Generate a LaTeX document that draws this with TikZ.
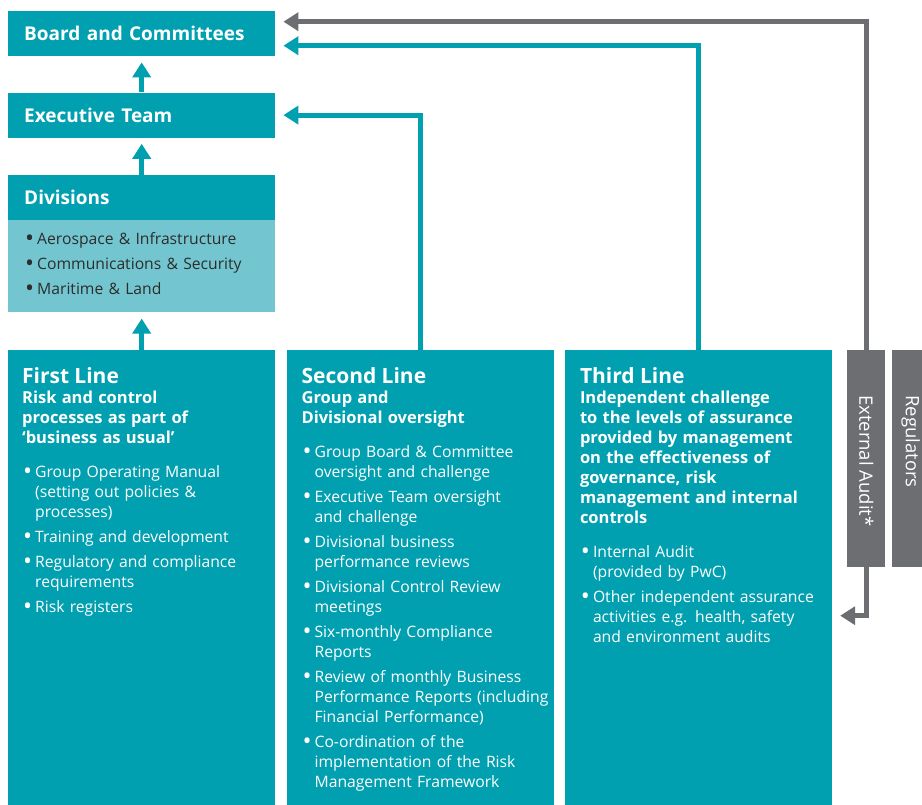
\documentclass[tikz,border=0pt]{standalone}
\usepackage{fontspec}
\setmainfont{Open Sans}
\usetikzlibrary{arrows.meta,positioning}
\definecolor{brand}{RGB}{0,160,176}
\definecolor{brandlight}{RGB}{115,198,208}
\definecolor{slate}{RGB}{109,110,113}
\definecolor{ink}{RGB}{45,45,45}
\newcommand\dotmark{\raisebox{-2.5pt}{\fontsize{24}{20}\selectfont\textbullet}}
\newenvironment{dotlist}{\begin{list}{\dotmark}{%
  \setlength{\leftmargin}{13pt}\setlength{\labelsep}{3pt}\setlength{\labelwidth}{10pt}%
  \setlength{\topsep}{0pt}\setlength{\partopsep}{0pt}\setlength{\parsep}{0pt}\setlength{\itemsep}{5pt}}}%
  {\end{list}}
\newcommand\colhead[1]{{\fontsize{21}{21}\selectfont\bfseries #1\par}}
\newcommand\colsub[1]{{\fontsize{16.5}{20}\selectfont\bfseries #1\par}\vspace{14pt}}
\tikzset{
  tier/.style={fill=brand, text=white, inner xsep=16pt, inner ysep=0pt, text width=235pt,
    minimum height=45pt, align=left, font=\fontsize{19}{22}\selectfont\bfseries},
  tierbody/.style={fill=brandlight, text=ink, inner xsep=16pt, inner ysep=0pt, text width=235pt,
    minimum height=92pt, align=left, font=\fontsize{15.7}{20}\selectfont},
  column/.style={fill=brand, minimum width=267pt, minimum height=455pt, inner sep=0pt},
  coltext/.style={text=white, anchor=north west, text width=260pt, inner sep=0pt, align=left,
    font=\fontsize{15.7}{20}\selectfont},
  sidebar/.style={fill=slate, minimum width=38pt, minimum height=217pt, inner sep=0pt},
  sidelabel/.style={text=white, rotate=-90, anchor=west, inner sep=0pt, font=\fontsize{18.5}{20}\selectfont},
  tip/.style={-{Triangle[length=15pt,width=18pt]}, line width=5pt, line join=miter},
  uplink/.style={tip, draw=brand, shorten >=6pt},
  feed/.style={tip, draw=brand, shorten >=8pt},
  auditfeed/.style={tip, draw=slate, shorten >=8pt},
}

\begin{document}
\begin{tikzpicture}[x=1pt, y=1pt]
  \useasboundingbox (0,0) rectangle (922,-805);

  \node[tier, anchor=north west] (board) at (8,-11) {Board and Committees};
  \node[tier, below=36pt of board] (exec) {Executive Team};
  \node[tier, below=37pt of exec] (divhead) {Divisions};
  \node[tierbody, below=0pt of divhead] (divbody) {%
    \begin{dotlist}
      \item Aerospace \& Infrastructure
      \item Communications \& Security
      \item Maritime \& Land
    \end{dotlist}\par\vspace{12pt}};

  \node[column, anchor=north west] (first) at (8,-350) {};
  \node[column, right=11pt of first] (second) {};
  \node[column, right=11pt of second] (third) {};

  \node[coltext] (firsttext) at ([shift={(14,-17)}]first.north west) {%
    \colhead{First Line}
    \colsub{Risk and control\\processes as part of\\‘business as usual’}
    \begin{dotlist}
      \item Group Operating Manual\\(setting out policies \&\\processes)
      \item Training and development
      \item Regulatory and compliance\\requirements
      \item Risk registers
    \end{dotlist}};
  \node[coltext] (secondtext) at ([shift={(15,-17)}]second.north west) {%
    \colhead{Second Line}
    \colsub{Group and\\Divisional oversight}
    \begin{dotlist}
      \item Group Board \& Committee\\oversight and challenge
      \item Executive Team oversight\\and challenge
      \item Divisional business\\performance reviews
      \item Divisional Control Review\\meetings
      \item Six-monthly Compliance\\Reports
      \item Review of monthly Business\\Performance Reports (including\\Financial Performance)
      \item Co-ordination of the\\implementation of the Risk\\Management Framework
    \end{dotlist}};
  \node[coltext] (thirdtext) at ([shift={(15,-17)}]third.north west) {%
    \colhead{Third Line}
    \colsub{Independent challenge\\to the levels of assurance\\provided by management\\on the effectiveness of\\governance, risk\\management and internal\\controls}
    \begin{dotlist}
      \item Internal Audit\\(provided by PwC)
      \item Other independent assurance\\activities e.g. health, safety\\and environment audits
    \end{dotlist}};

  \node[sidebar, anchor=north west] (audit) at (847,-350) {};
  \node[sidebar, right=6pt of audit] (regulators) {};
  \node[sidelabel] (auditlabel) at ([yshift=-45pt]audit.north) {External Audit*};
  \node[sidelabel] (regulatorslabel) at ([yshift=-45pt]regulators.north) {Regulators};

  \draw[uplink] (exec) -- (board);
  \draw[uplink] (divhead) -- (exec);
  \draw[uplink] (first) -- (divbody);
  \draw[feed] (second.north) |- (exec.east);
  \draw[feed] (third.north) |- ([yshift=-12pt]board.east);
  \draw[auditfeed] (audit.north) |- ([yshift=12pt]board.east);
  \draw[auditfeed] (audit.south) |- ([yshift=-38pt]third.east);
\end{tikzpicture}
\end{document}
